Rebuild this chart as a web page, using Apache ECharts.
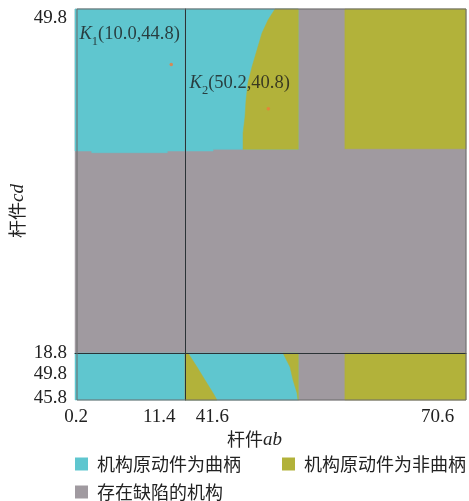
<!DOCTYPE html>
<html>
<head>
<meta charset="utf-8">
<script src="https://cdn.jsdelivr.net/npm/echarts@6/dist/echarts.min.js"></script>
<style>html,body{margin:0;padding:0;background:#fff}#c{width:469px;height:501px}</style>
</head>
<body>
<div id="c"></div>
<script>
// ---------- data ----------
const categories = ['机构原动件为曲柄', '机构原动件为非曲柄', '存在缺陷的机构'];
const colors = ['#5fc6cf', '#b2b23a', '#a09aa0'];

// broken axes: left / right x panels, upper / lower y panels
const xLeftRange = [0.2, 11.4];
const xRightRange = [41.6, 70.6];
const yUpperRange = [18.8, 49.8];
const yLowerRange = [45.8, 49.8];

// tick labels
const xTicksLeft = [0.2, 11.4];
const xTicksRight = [41.6, 70.6];
const yTicksUpper = [18.8, 49.8];
const yTicksLower = [45.8, 49.8];

// upper-left panel: crank region above this edge
const ulEdgeX = [0.2, 1.9, 1.9, 9.6, 9.6, 11.4];
const ulEdgeY = [37.0, 37.0, 36.85, 36.85, 37.0, 37.0];

// upper-right panel
const urEdgeX = [41.6, 44.5, 44.5, 53.3];
const urEdgeY = [37.0, 37.0, 37.15, 37.15];
const upperCurveX = [50.89, 50.17, 49.55, 49.03, 48.51, 48.10, 47.90, 47.79, 47.59, 47.59];
const upperCurveY = [49.8, 48.81, 47.64, 46.11, 44.57, 43.13, 41.60, 40.07, 38.63, 37.15];
const defectStripeX = [53.3, 58.1];
const upperRightNonCrankBottom = 37.2;

// lower-right panel
const lowerLeftCurveX = [41.91, 42.84, 43.66, 44.49, 44.90];
const lowerLeftCurveY = [49.8, 48.61, 47.50, 46.40, 45.8];
const lowerRightCurveX = [51.71, 52.44, 52.75, 53.16, 53.26];
const lowerRightCurveY = [49.8, 48.61, 47.50, 46.40, 45.8];

// marked points
const pointSubs = ['1', '2'];
const pointX = [10.0, 50.2];
const pointY = [44.8, 40.8];
const pointGrid = [0, 1];

// ---------- helpers ----------
function zip(xs, ys) { return xs.map((x, i) => [x, ys[i]]); }
function rect(x0, x1, y0, y1) { return [[x0, y0], [x1, y0], [x1, y1], [x0, y1]]; }
function poly(cat, grid, pts) {
  const color = colors[cat];
  return {
    type: 'custom', name: categories[cat], xAxisIndex: grid, yAxisIndex: grid,
    itemStyle: { color: color }, silent: true, data: [0], z: 2,
    renderItem: (params, api) => ({
      type: 'polygon',
      shape: { points: pts.map(p => api.coord(p)) },
      style: { fill: color, stroke: color, lineWidth: 0.5 }
    })
  };
}

const series = [];
// upper-left
series.push(poly(2, 0, rect(xLeftRange[0], xLeftRange[1], yUpperRange[0], yUpperRange[1])));
series.push(poly(0, 0, [[xLeftRange[0], yUpperRange[1]], [xLeftRange[1], yUpperRange[1]]].concat(zip(ulEdgeX, ulEdgeY).reverse())));
// upper-right
series.push(poly(2, 1, rect(xRightRange[0], xRightRange[1], yUpperRange[0], yUpperRange[1])));
series.push(poly(0, 1, [[xRightRange[0], yUpperRange[1]], [defectStripeX[0], yUpperRange[1]]].concat(zip(urEdgeX, urEdgeY).reverse())));
series.push(poly(1, 1, zip(upperCurveX, upperCurveY).concat([[defectStripeX[0], upperCurveY[upperCurveY.length - 1]], [defectStripeX[0], yUpperRange[1]]])));
series.push(poly(1, 1, rect(defectStripeX[1], xRightRange[1], upperRightNonCrankBottom, yUpperRange[1])));
// lower-left
series.push(poly(0, 2, rect(xLeftRange[0], xLeftRange[1], yLowerRange[0], yLowerRange[1])));
// lower-right
series.push(poly(2, 3, rect(xRightRange[0], xRightRange[1], yLowerRange[0], yLowerRange[1])));
series.push(poly(0, 3, rect(xRightRange[0], defectStripeX[0], yLowerRange[0], yLowerRange[1])));
series.push(poly(1, 3, [[xRightRange[0], yLowerRange[1]]].concat(zip(lowerLeftCurveX, lowerLeftCurveY), [[xRightRange[0], yLowerRange[0]]])));
series.push(poly(1, 3, zip(lowerRightCurveX, lowerRightCurveY).concat([[defectStripeX[0], yLowerRange[0]], [defectStripeX[0], yLowerRange[1]]])));
series.push(poly(1, 3, rect(defectStripeX[1], xRightRange[1], yLowerRange[0], yLowerRange[1])));

// points
const labelPos = [[-90, -29], [-77, -24]];
const kFont = { fontFamily: 'Liberation Serif', color: '#1a1a1a', verticalAlign: 'top' };
pointX.forEach((x, i) => {
  series.push({
    type: 'scatter', xAxisIndex: pointGrid[i], yAxisIndex: pointGrid[i], z: 6,
    symbol: 'circle', symbolSize: 3.5, itemStyle: { color: '#f07a3a' }, silent: true,
    data: [[x, pointY[i]]],
    label: {
      show: true, position: labelPos[i], align: 'left', verticalAlign: 'middle',
      formatter: '{k|K}{s|' + pointSubs[i] + '}{n|(' + x.toFixed(1) + ',' + pointY[i].toFixed(1) + ')}',
      rich: {
        k: Object.assign({ fontStyle: 'italic', fontSize: 18.5, lineHeight: 18 }, kFont),
        s: Object.assign({ fontSize: 12.5, lineHeight: 12, padding: [10, 0, 0, 0] }, kFont),
        n: Object.assign({ fontSize: 18.5, lineHeight: 18 }, kFont)
      }
    }
  });
});

const divider = { show: true, lineStyle: { color: '#2b3336', width: 1 } };
const tickFont = { fontFamily: 'Liberation Serif', fontSize: 19, color: '#222' };
function hiddenAxis(extra) {
  return Object.assign({
    type: 'value', axisLine: { show: false }, axisTick: { show: false },
    axisLabel: { show: false }, splitLine: { show: false }, z: 10
  }, extra);
}
// pick rich style 'a' for the first tick of an axis, 'b' for the other
function tickFmt(ticks) {
  return (v) => '{' + (Math.abs(v - ticks[0]) < 1e-9 ? 'a' : 'b') + '|' + v.toFixed(1) + '}';
}

const option = {
  animation: false,
  backgroundColor: '#fff',
  grid: [
    { left: 75, top: 9, width: 110, height: 344 },
    { left: 185, top: 9, width: 281, height: 344 },
    { left: 75, top: 353, width: 110, height: 47 },
    { left: 185, top: 353, width: 281, height: 47 },
    { left: 75, top: 9, width: 391, height: 391, show: true, borderColor: '#6a6a6a', borderWidth: 1, backgroundColor: 'transparent', z: 20 }
  ],
  xAxis: [
    hiddenAxis({ gridIndex: 0, min: xLeftRange[0], max: xLeftRange[1], position: 'bottom', axisLine: divider }),
    hiddenAxis({ gridIndex: 1, min: xRightRange[0], max: xRightRange[1], position: 'bottom', axisLine: divider }),
    hiddenAxis({
      gridIndex: 2, min: xLeftRange[0], max: xLeftRange[1], position: 'bottom',
      axisLabel: Object.assign({
        show: true, customValues: xTicksLeft, margin: 8, alignMinLabel: 'center', alignMaxLabel: 'right',
        formatter: tickFmt(xTicksLeft),
        rich: { a: { width: 26, align: 'right' }, b: { width: 42, align: 'left' } }
      }, tickFont)
    }),
    hiddenAxis({
      gridIndex: 3, min: xRightRange[0], max: xRightRange[1], position: 'bottom',
      axisLabel: Object.assign({
        show: true, customValues: xTicksRight, margin: 8, alignMinLabel: 'left', alignMaxLabel: 'right',
        formatter: tickFmt(xTicksRight),
        rich: { a: { width: 44, align: 'right' }, b: { width: 45, align: 'left' } }
      }, tickFont)
    }),
    hiddenAxis({
      gridIndex: 4, min: 0, max: 1, name: '{c|杆件}{i|ab}', nameLocation: 'middle', nameGap: 30,
      nameTextStyle: {
        padding: [0, 34, 0, 0],
        rich: {
          c: { fontFamily: 'Noto Sans CJK SC', fontSize: 18, color: '#222' },
          i: { fontFamily: 'Liberation Serif', fontStyle: 'italic', fontSize: 19, color: '#222' }
        }
      }
    })
  ],
  yAxis: [
    hiddenAxis({
      gridIndex: 0, min: yUpperRange[0], max: yUpperRange[1], position: 'left',
      axisLabel: Object.assign({
        show: true, customValues: yTicksUpper, margin: 8, verticalAlignMinLabel: 'middle', verticalAlignMaxLabel: 'top',
        formatter: (v) => v.toFixed(1)
      }, tickFont)
    }),
    hiddenAxis({ gridIndex: 1, min: yUpperRange[0], max: yUpperRange[1], position: 'left', axisLine: divider }),
    hiddenAxis({
      gridIndex: 2, min: yLowerRange[0], max: yLowerRange[1], position: 'left',
      axisLabel: Object.assign({
        show: true, customValues: yTicksLower, margin: 8, verticalAlignMinLabel: 'middle', verticalAlignMaxLabel: 'top',
        formatter: tickFmt(yTicksLower),
        rich: { a: { padding: [0, 0, 4, 0] }, b: { padding: [12, 0, 0, 0] } }
      }, tickFont)
    }),
    hiddenAxis({ gridIndex: 3, min: yLowerRange[0], max: yLowerRange[1], position: 'left', axisLine: divider }),
    hiddenAxis({
      gridIndex: 4, min: 0, max: 1, name: '{c|杆件}{i|cd}', nameLocation: 'middle', nameGap: 50,
      nameTextStyle: {
        padding: [0, 13, 0, 0],
        rich: {
          c: { fontFamily: 'Noto Sans CJK SC', fontSize: 18, color: '#222' },
          i: { fontFamily: 'Liberation Serif', fontStyle: 'italic', fontSize: 19, color: '#222' }
        }
      }
    })
  ],
  legend: [
    {
      data: [categories[0], categories[1]], left: 75, top: 455, padding: 0, itemGap: 41,
      icon: 'rect', itemWidth: 13, itemHeight: 13, selectedMode: false,
      textStyle: { fontFamily: 'Noto Sans CJK SC', fontSize: 18, color: '#222', padding: [0, 0, 0, 4] }
    },
    {
      data: [categories[2]], left: 75, top: 483, padding: 0,
      icon: 'rect', itemWidth: 13, itemHeight: 13, selectedMode: false,
      textStyle: { fontFamily: 'Noto Sans CJK SC', fontSize: 18, color: '#222', padding: [0, 0, 0, 4] }
    }
  ],
  series: series
};

const chart = echarts.init(document.getElementById('c'), null, { renderer: 'canvas' });
chart.setOption(option);
</script>
</body>
</html>
